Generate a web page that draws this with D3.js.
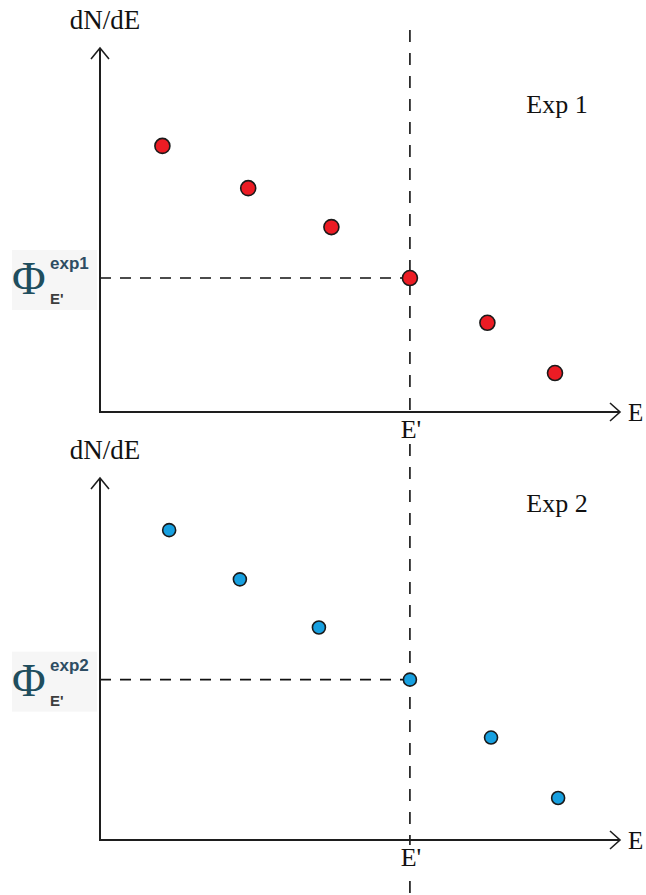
<!DOCTYPE html>
<html>
<head>
<meta charset="utf-8">
<script src="https://d3js.org/d3.v7.min.js"></script>
<style>
  body { margin: 0; background: #fff; }
  svg { display: block; }
</style>
</head>
<body>
<div id="chart"></div>
<script>
// Chart data (arbitrary units)
const exp1E = [1.2, 2.85, 4.45, 5.96, 7.45, 8.75];
const exp1Flux = [7.31, 6.15, 5.08, 3.68, 2.45, 1.07];
const exp2E = [1.33, 2.69, 4.21, 5.96, 7.52, 8.81];
const exp2Flux = [8.56, 7.20, 5.87, 4.43, 2.83, 1.16];
const ePrime = 5.96;
const panelNames = ["Exp 1", "Exp 2"];
const phiLabels = ["exp1", "exp2"];

const width = 646;
const height = 895;

const panels = [
    { name: panelNames[0], sup: phiLabels[0], xs: exp1E, ys: exp1Flux, top: 48, bottom: 412, titleY: 113, color: "#ec1c24", r: 7.5 },
    { name: panelNames[1], sup: phiLabels[1], xs: exp2E, ys: exp2Flux, top: 478, bottom: 840, titleY: 512, color: "#17a0e0", r: 6.5 }
];

const svg = d3.select("#chart").append("svg")
    .attr("width", width)
    .attr("height", height);

const x = d3.scaleLinear().domain([0, 10]).range([100, 620]);
const axisColor = "#1e1e1e";
const serif = "'Liberation Serif', 'DejaVu Serif', serif";
const sans = "'Liberation Sans', 'DejaVu Sans', sans-serif";

// vertical dashed line at E' across both panels
svg.append("line")
    .attr("x1", x(ePrime)).attr("x2", x(ePrime))
    .attr("y1", 30).attr("y2", height)
    .attr("stroke", "#111")
    .attr("stroke-width", 1.6)
    .attr("stroke-dasharray", "12,11");

panels.forEach(p => {
    const y = d3.scaleLinear().domain([0, 10]).range([p.bottom, p.top]);
    const g = svg.append("g");
    const iE = p.xs.indexOf(ePrime);
    const yPhi = y(p.ys[iE]);

    // horizontal dashed line to the flux at E'
    g.append("line")
        .attr("x1", x(0)).attr("x2", x(ePrime))
        .attr("y1", yPhi).attr("y2", yPhi)
        .attr("stroke", "#111")
        .attr("stroke-width", 1.6)
        .attr("stroke-dasharray", "11,9");

    // axes
    g.append("line")
        .attr("x1", x(0)).attr("x2", x(0))
        .attr("y1", y(0) + 1).attr("y2", y(10))
        .attr("stroke", axisColor).attr("stroke-width", 2);
    g.append("line")
        .attr("x1", x(0) - 1).attr("x2", x(10))
        .attr("y1", y(0)).attr("y2", y(0))
        .attr("stroke", axisColor).attr("stroke-width", 2);

    // arrow heads
    g.append("path")
        .attr("d", `M${x(0) - 9},${y(10) + 11} L${x(0)},${y(10)} L${x(0) + 9},${y(10) + 11}`)
        .attr("fill", "none").attr("stroke", axisColor).attr("stroke-width", 1.6);
    g.append("path")
        .attr("d", `M${x(10) - 10},${y(0) - 9} L${x(10)},${y(0)} L${x(10) - 10},${y(0) + 9}`)
        .attr("fill", "none").attr("stroke", axisColor).attr("stroke-width", 1.6);

    // axis labels
    g.append("text")
        .attr("x", x(0) + 5).attr("y", y(10) - 19)
        .attr("text-anchor", "middle")
        .style("font-family", serif).style("font-size", "27px")
        .attr("fill", "#111")
        .text("dN/dE");
    g.append("text")
        .attr("x", x(10) + 8).attr("y", y(0) + 9)
        .style("font-family", serif).style("font-size", "25px")
        .attr("fill", "#111")
        .text("E");

    // E' label with white background breaking the dashed line
    g.append("rect")
        .attr("x", x(ePrime) - 12).attr("y", y(0) + 5)
        .attr("width", 24).attr("height", 27)
        .attr("fill", "#fff");
    g.append("text")
        .attr("x", x(ePrime) + 1).attr("y", y(0) + 26)
        .attr("text-anchor", "middle")
        .style("font-family", serif).style("font-size", "26px")
        .attr("fill", "#111")
        .text("E'");

    // panel title
    g.append("text")
        .attr("x", 557).attr("y", p.titleY)
        .attr("text-anchor", "middle")
        .style("font-family", serif).style("font-size", "26px")
        .attr("fill", "#111")
        .text(p.name);

    // Phi label
    const lab = g.append("g").attr("transform", `translate(12,${yPhi - 28})`);
    lab.append("rect")
        .attr("width", 85).attr("height", 60)
        .attr("fill", "#f6f6f6");
    lab.append("text")
        .attr("x", 0).attr("y", 44)
        .style("font-family", serif).style("font-size", "46px")
        .attr("fill", "#1f4e5e")
        .text("Φ");
    lab.append("text")
        .attr("x", 38).attr("y", 19)
        .style("font-family", sans).style("font-size", "17px").style("font-weight", "bold")
        .attr("fill", "#2e4d63")
        .text(p.sup);
    lab.append("text")
        .attr("x", 38).attr("y", 54)
        .style("font-family", sans).style("font-size", "15px").style("font-weight", "bold")
        .attr("fill", "#3d3d3d")
        .text("E'");

    // data points
    g.selectAll("circle")
        .data(d3.zip(p.xs, p.ys))
        .join("circle")
        .attr("cx", d => x(d[0]))
        .attr("cy", d => y(d[1]))
        .attr("r", p.r)
        .attr("fill", p.color)
        .attr("stroke", "#1a1a1a")
        .attr("stroke-width", 1.6);
});
</script>
</body>
</html>
